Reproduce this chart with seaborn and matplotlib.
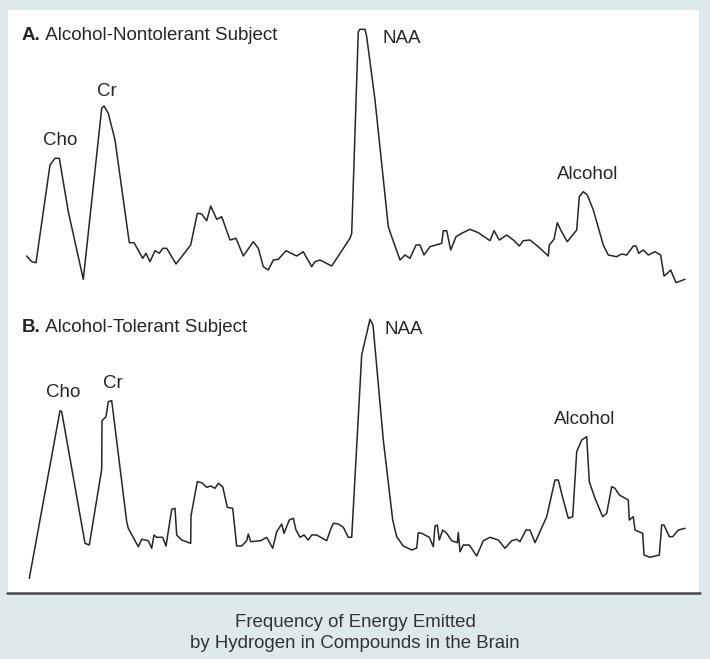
import numpy as np
import pandas as pd
import matplotlib.pyplot as plt
import seaborn as sns
from matplotlib.patches import Rectangle
from matplotlib.lines import Line2D

# Spectrum A: alcohol-nontolerant subject (position along frequency axis, signal)
freq_a = [26.7, 31.7, 36, 50, 55, 59.3, 68.3, 83.3, 101.7, 104, 108.3, 115, 129.3, 134,
          142.7, 146, 150, 155, 159.3, 162.7, 166.7, 176, 190.7, 197.3, 201.7, 206.7,
          210.7, 216.7, 221.7, 230, 236, 243.3, 253.3, 258.3, 263.3, 268.3, 273.3, 278.3,
          286, 296.7, 303.3, 306.7, 311.7, 315, 320, 331.7, 350, 351.7, 358.3, 360, 365,
          366.7, 375, 388.3, 391.7, 400, 405, 410, 416, 420, 424, 430, 441.7, 443.3,
          446.7, 450.7, 456, 461.7, 470, 478.3, 490, 494, 499.3, 506.7, 513.3, 519.3,
          523.3, 530, 538.3, 548.3, 549.3, 554, 557.3, 560.7, 567.3, 576.7, 579.3, 583.3,
          587.3, 593.3, 603.3, 608.3, 616.7, 621.7, 626.7, 633.3, 636, 638.7, 643.3,
          648.3, 655, 660.7, 664, 666.7, 670.7, 676, 685]
signal_a = [34, 28.3, 27.3, 125, 131.7, 131.7, 78.3, 10.7, 181.7, 184, 176.7, 150, 47.3,
            47.3, 31.7, 36.7, 28.3, 39.3, 36.7, 41.7, 41.7, 26, 45, 76.7, 76, 69.3, 84,
            70.7, 73.3, 50, 51.7, 34, 48.3, 41.7, 23.3, 20, 30, 30.7, 39.3, 34, 38.3, 32,
            23.3, 28.3, 30, 24, 51.7, 56.7, 258.3, 260.7, 260.7, 253.3, 190, 63.3, 53.3,
            30, 35, 31.7, 45, 45, 35, 43.3, 46.7, 59.3, 59.3, 40, 53.3, 56.7, 60.7, 57.3,
            49.3, 59.3, 50, 55, 50, 44, 49.3, 50, 43.3, 34, 45, 50.7, 67.3, 60, 48.3, 60,
            93.3, 98.3, 95, 80, 45, 35, 33.3, 36, 35, 44, 44, 36.7, 40, 35, 38.3, 35, 14,
            16, 20, 7.3, 10.7]

# Spectrum B: alcohol-tolerant subject
freq_b = [29.3, 60, 61.7, 85, 89.3, 101.7, 102, 106, 108.3, 111.7, 126.7, 128.3, 138.3,
          141.7, 148.3, 151.7, 154, 156.7, 162.7, 166, 171.7, 175, 176.7, 181.7, 190.7,
          191, 193.3, 197.3, 201.7, 206.7, 210.7, 215, 218.3, 222.7, 227.3, 232.7, 236.7,
          241.7, 246.7, 248.3, 250.7, 260.7, 266.7, 272.7, 276.7, 281.7, 284, 289.3,
          293.3, 296, 300, 304, 308.3, 311.7, 316.7, 326.7, 330.7, 333.3, 338.3, 343.3,
          348.3, 351.7, 361.7, 370, 373, 383.3, 392.7, 396.7, 403.3, 411.7, 416.7, 418.3,
          421.7, 429.3, 433.3, 435, 437.3, 439.3, 442.7, 446.7, 451.7, 457.3, 458.3, 460,
          463.3, 469.3, 476.7, 483.3, 490, 498.3, 505, 511.7, 516.7, 520, 526, 530, 535,
          546.7, 555, 558.3, 563.3, 568.3, 572.7, 576.7, 581.7, 586.7, 589.3, 595, 602.7,
          606.7, 611.7, 615, 619.3, 628.3, 629.3, 633.3, 635, 642.7, 644, 650, 659.3,
          661.7, 664, 669.3, 672.7, 678.3, 685]
signal_b = [11.7, 179.3, 178.3, 46.7, 45, 120.7, 169.3, 173.3, 188.3, 189.3, 68.3, 61.7,
            43.3, 50.7, 49.3, 41.7, 55, 52.7, 52.7, 44, 80.7, 81.7, 55, 50, 46.7, 74, 86.7,
            108.3, 107.3, 102.7, 104, 101.7, 106.7, 103.3, 82.7, 81.7, 44, 44, 49.3, 56,
            48.3, 49.3, 52.7, 41.7, 58.3, 66, 56.7, 70, 71.7, 60, 52.7, 55, 50, 55, 55,
            49.3, 60.7, 66.7, 66, 62.7, 52.7, 52.7, 235, 270.7, 265, 150, 70, 53.3, 44, 40,
            42, 57.3, 56.7, 52.7, 43.3, 64, 65, 50, 60, 56.7, 49.3, 47.3, 57.3, 38.3, 45,
            45, 34, 49.3, 52.7, 50, 41.7, 49.3, 50.7, 48.3, 60, 60, 47.3, 73.3, 110, 110,
            90, 71.7, 73.3, 138.3, 150, 153.3, 108.3, 91.7, 73.3, 76.7, 103.3, 101.7, 95,
            90, 70, 73.3, 60, 56.7, 35, 32.7, 35, 65, 65, 53.3, 53.3, 60, 61.7]

peak_names = ["Cho", "Cr", "NAA", "Alcohol"]
label_pos_a = [(43, 145), (97, 194), (383, 247), (557, 111)]
label_pos_b = [(46, 193), (103, 202), (385, 256), (554, 166)]

df_a = pd.DataFrame({"freq": freq_a, "signal": signal_a})
df_b = pd.DataFrame({"freq": freq_b, "signal": signal_b})

sns.set_theme(style="white")
plt.rcParams["font.family"] = ["Liberation Sans", "DejaVu Sans"]

W, H = 710, 659
fig = plt.figure(figsize=(7.10, 6.59), dpi=100)
fig.patch.set_facecolor("#dde9eb")

# white panel and bottom rule
fig.patches.append(Rectangle((8 / W, 1 - 593 / H), 691 / W, 583 / H,
                             transform=fig.transFigure, facecolor="white",
                             edgecolor="none", zorder=-5))
fig.lines.append(Line2D([7 / W, 700 / W], [1 - 593 / H, 1 - 593 / H],
                        transform=fig.transFigure, color="#4a4a4a", lw=1.8))

ink = "#262626"
fs = 13.5
panels = [
    (df_a, 0, "A.", " Alcohol-Nontolerant Subject", 250, label_pos_a),
    (df_b, 300, "B.", " Alcohol-Tolerant Subject", 258, label_pos_b),
]

for data, top, letter, title, title_y, label_pos in panels:
    ax = fig.add_axes([0, 1 - (top + 290) / H, 1, 290 / H])
    ax.set_xlim(0, W)
    ax.set_ylim(0, 290)
    ax.patch.set_alpha(0)
    ax.axis("off")
    sns.lineplot(data=data, x="freq", y="signal", ax=ax, sort=False, estimator=None,
                 color=ink, linewidth=1.1)
    t = ax.text(22, title_y, letter, fontsize=fs, fontweight="bold", color=ink,
                va="baseline")
    fig.canvas.draw()
    bb = t.get_window_extent()
    x_next = ax.transData.inverted().transform((bb.x1, 0))[0]
    ax.text(x_next, title_y, title, fontsize=fs, color=ink, va="baseline")
    for name, (lx, ly) in zip(peak_names, label_pos):
        ax.text(lx, ly, name, fontsize=fs, color=ink, va="baseline")

fig.text(0.5, 1 - 627 / H, "Frequency of Energy Emitted", ha="center", va="baseline",
         fontsize=13.4, color="#333333")
fig.text(0.5, 1 - 648 / H, "by Hydrogen in Compounds in the Brain", ha="center",
         va="baseline", fontsize=13.4, color="#333333")

fig.savefig("out.png", dpi=100, facecolor=fig.get_facecolor())
